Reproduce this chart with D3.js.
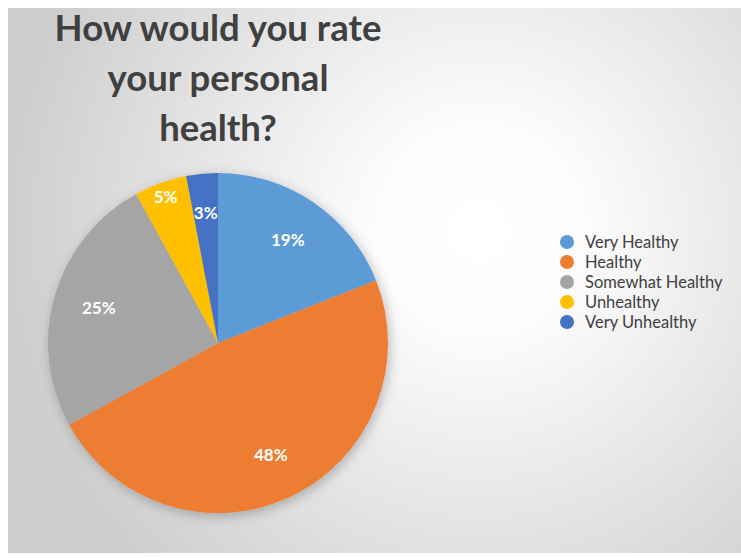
<!DOCTYPE html>
<html>
<head>
<meta charset="utf-8">
<script src="https://cdn.jsdelivr.net/npm/d3@7"></script>
<style>
  html, body { margin: 0; padding: 0; background: #fff; }
  svg { display: block; }
</style>
</head>
<body>
<div id="chart"></div>
<script>
const categories = ["Very Healthy", "Healthy", "Somewhat Healthy", "Unhealthy", "Very Unhealthy"];
const values = [19, 48, 25, 5, 3];
const colors = ["#5b9bd5", "#ed7d31", "#a5a5a5", "#ffc000", "#4472c4"];
const titleLines = ["How would you rate", "your personal", "health?"];

const width = 741;
const height = 558;
const cx = 218, cy = 343, r = 170;
const font = "Lato, 'Open Sans', sans-serif";

const svg = d3.select("#chart")
  .append("svg")
  .attr("width", width)
  .attr("height", height);

const defs = svg.append("defs");

// background gradient
const bg = defs.append("radialGradient")
  .attr("id", "bg")
  .attr("gradientUnits", "userSpaceOnUse")
  .attr("cx", 480).attr("cy", 230).attr("r", 480);
bg.append("stop").attr("offset", "0%").attr("stop-color", "#ffffff");
bg.append("stop").attr("offset", "22%").attr("stop-color", "#fcfcfc");
bg.append("stop").attr("offset", "100%").attr("stop-color", "#cdcdcd");

const shadow = defs.append("filter")
  .attr("id", "shadow")
  .attr("x", "-20%").attr("y", "-20%")
  .attr("width", "140%").attr("height", "140%");
shadow.append("feDropShadow")
  .attr("dx", 2).attr("dy", 3)
  .attr("stdDeviation", 6)
  .attr("flood-color", "#000")
  .attr("flood-opacity", 0.25);

svg.append("rect")
  .attr("x", 8).attr("y", 8)
  .attr("width", width - 8).attr("height", height - 13)
  .attr("fill", "url(#bg)");

// Title
svg.append("g")
  .selectAll("text")
  .data(titleLines)
  .join("text")
  .attr("x", cx)
  .attr("y", (d, i) => 41 + i * 50)
  .attr("text-anchor", "middle")
  .style("font-family", font)
  .style("font-weight", "700")
  .style("font-size", "36.5px")
  .style("fill", "#404040")
  .text(d => d);

// Pie
const pie = d3.pie().sort(null).value(d => d);
const arcs = pie(values);
const arc = d3.arc().innerRadius(0).outerRadius(r);

const g = svg.append("g")
  .attr("transform", `translate(${cx},${cy})`);

g.append("g")
  .attr("filter", "url(#shadow)")
  .selectAll("path")
  .data(arcs)
  .join("path")
  .attr("d", arc)
  .attr("fill", (d, i) => colors[i]);

// label distance from centre, as fraction of radius
const labelPos = d => d.data < 4 ? 0.77 : d.data < 10 ? 0.91 : 0.73;

g.selectAll("text.label")
  .data(arcs)
  .join("text")
  .attr("class", "label")
  .attr("transform", d => {
    const lr = r * labelPos(d);
    const a = (d.startAngle + d.endAngle) / 2;
    return `translate(${Math.sin(a) * lr},${-Math.cos(a) * lr})`;
  })
  .attr("text-anchor", "middle")
  .attr("dy", "0.35em")
  .style("font-family", font)
  .style("font-weight", "700")
  .style("font-size", "17px")
  .style("fill", "#ffffff")
  .text(d => d.data + "%");

// Legend
const legend = svg.append("g")
  .attr("transform", "translate(567,242)");

const item = legend.selectAll("g")
  .data(categories)
  .join("g")
  .attr("transform", (d, i) => `translate(0,${i * 20})`);

item.append("circle")
  .attr("r", 7)
  .attr("fill", (d, i) => colors[i]);

item.append("text")
  .attr("x", 18)
  .attr("dy", "0.35em")
  .style("font-family", font)
  .style("font-size", "16.5px")
  .style("fill", "#404040")
  .text(d => d);
</script>
</body>
</html>
